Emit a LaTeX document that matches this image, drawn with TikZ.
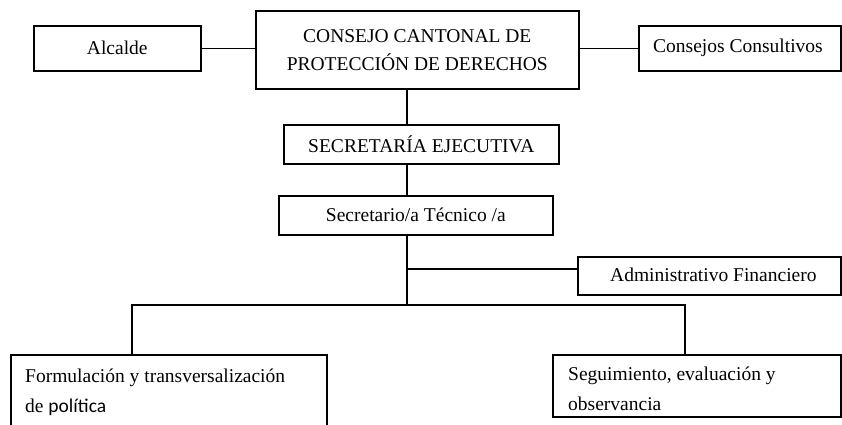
\documentclass[tikz,border=0pt]{standalone}
\usepackage{fontspec}
\setmainfont{Liberation Serif}
\newfontfamily\calib{Carlito}
\begin{document}
\begin{tikzpicture}[x=1pt,y=-1pt,
  box/.style={draw,line width=1.6pt,rectangle,inner sep=0pt,anchor=north west},
  lbl/.style={font=\fontsize{19.5}{28}\selectfont},
  lbl2/.style={font=\fontsize{19.5}{29.5}\selectfont},
  conn/.style={line width=1.6pt}]
\useasboundingbox (0,0) rectangle (842,424);
\node[box,lbl,minimum width=167pt,minimum height=45pt] (alc) at (33,25) {Alcalde};
\node[box,lbl,align=center,minimum width=323pt,minimum height=78pt] (cons) at (255,10) {CONSEJO CANTONAL DE\\PROTECCIÓN DE DERECHOS};
\node[box,minimum width=202pt,minimum height=45pt] (cc) at (638,25) {};
\node[lbl,anchor=west,inner sep=0pt] (cct) at (653,47.5) {Consejos Consultivos};
\node[box,lbl,minimum width=275pt,minimum height=39pt] (sec) at (283,124) {SECRETARÍA EJECUTIVA};
\node[box,lbl,minimum width=274pt,minimum height=39pt] (tec) at (278,195) {Secretario/a Técnico /a};
\node[box,minimum width=263pt,minimum height=38pt] (adm) at (577,256) {};
\node[lbl,anchor=west,inner sep=0pt] (admt) at (610,275) {Administrativo Financiero};
\node[box,minimum width=316pt,minimum height=90pt] (form) at (10,354) {};
\node[lbl2,anchor=north west,inner sep=0pt,align=left] (formt) at (25,369) {Formulación y transversalización\\de {\calib política}};
\node[box,minimum width=288pt,minimum height=62pt] (seg) at (552,354) {};
\node[lbl2,anchor=north west,inner sep=0pt,align=left] (segt) at (568,367) {Seguimiento, evaluación y\\observancia};
\coordinate (tx) at (407,0);
\coordinate (j1) at (407,269);
\coordinate (j2) at (407,305);
\coordinate (jl) at (132,305);
\coordinate (jr) at (685,305);
\draw[conn] (alc.east) -- (cons.west |- alc.east);
\draw[conn] (cons.east |- cc.west) -- (cc.west);
\draw[conn] (tx |- cons.south) -- (tx |- sec.north);
\draw[conn] (tx |- sec.south) -- (tx |- tec.north);
\draw[conn] (tx |- tec.south) -- (j2);
\draw[conn] (j1) -- (adm.west |- j1);
\draw[conn] (jl |- form.north) -- (jl) -- (jr) -- (jr |- seg.north);
\end{tikzpicture}
\end{document}
